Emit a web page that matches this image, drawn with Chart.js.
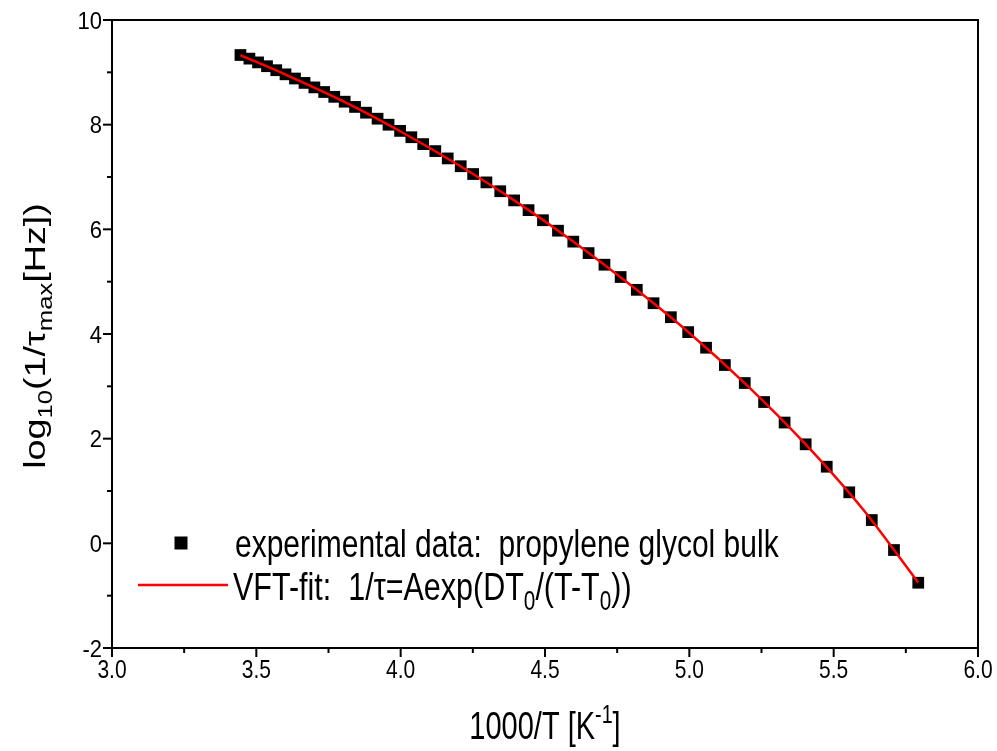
<!DOCTYPE html>
<html>
<head>
<meta charset="utf-8">
<script src="https://cdn.jsdelivr.net/npm/chart.js@4.4.1/dist/chart.umd.min.js"></script>
<style>
    body { margin: 0; background: #fff; }
    #wrap { width: 997px; height: 751px; position: relative; }
</style>
</head>
<body>
<div id="wrap"><canvas id="vftChart"></canvas></div>
<script>
// Peak positions of the relaxation
const invTemp = [3.445, 3.476, 3.506, 3.537, 3.569, 3.601, 3.634, 3.667, 3.701, 3.735,
                 3.770, 3.806, 3.842, 3.880, 3.920, 3.958, 3.998, 4.037, 4.078, 4.120,
                 4.163, 4.208, 4.251, 4.297, 4.345, 4.393, 4.443, 4.493, 4.545, 4.598,
                 4.651, 4.706, 4.762, 4.818, 4.876, 4.936, 4.996, 5.058, 5.123, 5.192,
                 5.259, 5.330, 5.403, 5.476, 5.554, 5.632, 5.709, 5.793];
const logRate = [9.331, 9.262, 9.190, 9.117, 9.041, 8.962, 8.882, 8.798, 8.712, 8.624,
                 8.532, 8.439, 8.339, 8.229, 8.114, 7.999, 7.881, 7.760, 7.629, 7.495,
                 7.355, 7.206, 7.057, 6.897, 6.728, 6.553, 6.367, 6.174, 5.974, 5.765,
                 5.546, 5.324, 5.089, 4.844, 4.588, 4.321, 4.036, 3.738, 3.407, 3.063,
                 2.700, 2.308, 1.892, 1.464, 0.975, 0.445, -0.128, -0.753];

// VFT fit curve
const fitInvTemp = [3.445, 3.6, 3.8, 4.0, 4.2, 4.4, 4.6, 4.8, 5.0, 5.2, 5.4, 5.6, 5.793];
const fitLogRate = [9.33, 8.96, 8.45, 7.87, 7.23, 6.53, 5.76, 4.92, 4.02, 3.02, 1.91, 0.66, -0.75];

const xTickLabels = ['3.0', '3.5', '4.0', '4.5', '5.0', '5.5', '6.0'];
const yTickLabels = ['-2', '0', '2', '4', '6', '8', '10'];

// _{..} = subscript, ^{..} = superscript
const xTitle = '1000/T [K^{-1}]';
const yTitle = 'log_{10}(1/τ_{max}[Hz])';
const dataLabel = 'experimental data:  propylene glycol bulk';
const fitLabel = 'VFT-fit:  1/τ=Aexp(DT_{0}/(T-T_{0}))';

const FONT = '"Liberation Sans", Arial, sans-serif';

function parseRich(str) {
    const segs = [];
    const re = /([_^])\{([^}]*)\}/g;
    let last = 0, m;
    while ((m = re.exec(str)) !== null) {
        if (m.index > last) segs.push({ t: str.slice(last, m.index), mode: 0 });
        segs.push({ t: m[2], mode: m[1] === '_' ? 1 : -1 });
        last = re.lastIndex;
    }
    if (last < str.length) segs.push({ t: str.slice(last), mode: 0 });
    return segs;
}

function plainText(str) {
    return parseRich(str).map(s => s.t).join('');
}

// Draw text with sub/superscripts; y is the visual middle of the capitals.
// stretch makes glyphs taller than wide, like in the original export
function drawRich(ctx, str, x, y, size, align, stretch, rotate) {
    const segs = parseRich(str);
    let width = 0;
    segs.forEach(s => {
        s.size = s.mode ? size * 0.68 : size;
        ctx.font = s.size + 'px ' + FONT;
        s.w = ctx.measureText(s.t).width;
        width += s.w;
    });
    ctx.save();
    ctx.translate(x, y);
    if (rotate) {
        ctx.rotate(-Math.PI / 2);
        ctx.scale(stretch, 1);
    } else {
        ctx.scale(1, stretch);
    }
    ctx.fillStyle = '#000';
    ctx.textAlign = 'left';
    ctx.textBaseline = 'alphabetic';
    let cx = align === 'center' ? -width / 2 : (align === 'right' ? -width : 0);
    const base = size * 0.36;
    segs.forEach(s => {
        ctx.font = s.size + 'px ' + FONT;
        const dy = s.mode === 1 ? size * 0.24 : (s.mode === -1 ? -size * 0.42 : 0);
        ctx.fillText(s.t, cx, base + dy);
        cx += s.w;
    });
    ctx.restore();
}

function line(ctx, x1, y1, x2, y2) {
    ctx.beginPath();
    ctx.moveTo(x1, y1);
    ctx.lineTo(x2, y2);
    ctx.stroke();
}

// Frame, outward ticks, labels, titles and legend
const framePlugin = {
    id: 'frame',
    afterDraw(chart) {
        const ctx = chart.ctx;
        const a = chart.chartArea;
        const xs = chart.scales.x;
        const ys = chart.scales.y;

        ctx.save();
        ctx.strokeStyle = '#000';
        ctx.lineWidth = 2;
        ctx.strokeRect(a.left, a.top, a.right - a.left, a.bottom - a.top);

        xTickLabels.forEach((lab, i) => {
            const px = xs.getPixelForValue(Number(lab));
            line(ctx, px, a.bottom, px, a.bottom + 9);
            drawRich(ctx, lab, px, a.bottom + 21, 21, 'center', 1.2);
            if (i < xTickLabels.length - 1) {
                const pm = xs.getPixelForValue((Number(lab) + Number(xTickLabels[i + 1])) / 2);
                line(ctx, pm, a.bottom, pm, a.bottom + 5);
            }
        });

        yTickLabels.forEach((lab, i) => {
            const py = ys.getPixelForValue(Number(lab));
            line(ctx, a.left, py, a.left - 9, py);
            drawRich(ctx, lab, a.left - 10, py, 22, 'right', 1.1);
            if (i < yTickLabels.length - 1) {
                const pm = ys.getPixelForValue((Number(lab) + Number(yTickLabels[i + 1])) / 2);
                line(ctx, a.left, pm, a.left - 5, pm);
            }
        });

        drawRich(ctx, xTitle, (a.left + a.right) / 2, 725, 29, 'center', 1.35);
        drawRich(ctx, yTitle, 35, (a.top + a.bottom) / 2 + 2, 29, 'center', 1.3, true);

        // legend
        ctx.fillStyle = '#000';
        ctx.fillRect(181 - 6.5, 543 - 6.5, 13, 13);
        drawRich(ctx, dataLabel, 235, 543, 30, 'left', 1.3);
        ctx.strokeStyle = '#ff0000';
        ctx.lineWidth = 2.5;
        line(ctx, 138, 585, 228, 585);
        drawRich(ctx, fitLabel, 233, 586, 30.5, 'left', 1.3);
        ctx.restore();
    }
};

const ctx = document.getElementById('vftChart').getContext('2d');
const chart = new Chart(ctx, {
    type: 'scatter',
    data: {
        datasets: [{
            label: plainText(fitLabel),
            data: fitInvTemp.map((x, i) => ({ x: x, y: fitLogRate[i] })),
            showLine: true,
            borderColor: '#ff0000',
            borderWidth: 2.5,
            pointRadius: 0,
            cubicInterpolationMode: 'monotone',
            order: 0
        }, {
            label: plainText(dataLabel),
            data: invTemp.map((x, i) => ({ x: x, y: logRate[i] })),
            pointStyle: 'rect',
            pointRadius: 8.3,
            borderWidth: 0,
            backgroundColor: '#000',
            order: 1
        }]
    },
    options: {
        responsive: true,
        maintainAspectRatio: false,
        animation: false,
        layout: { padding: { left: 0, top: 20, right: 19, bottom: 0 } },
        plugins: {
            legend: { display: false },
            tooltip: { enabled: false }
        },
        scales: {
            x: {
                type: 'linear',
                min: 3,
                max: 6,
                ticks: { display: false },
                grid: { display: false },
                border: { display: false },
                afterFit(scale) { scale.height = 103; }
            },
            y: {
                type: 'linear',
                min: -2,
                max: 10,
                ticks: { display: false },
                grid: { display: false },
                border: { display: false },
                afterFit(scale) { scale.width = 112; }
            }
        }
    },
    plugins: [framePlugin]
});
</script>
</body>
</html>
